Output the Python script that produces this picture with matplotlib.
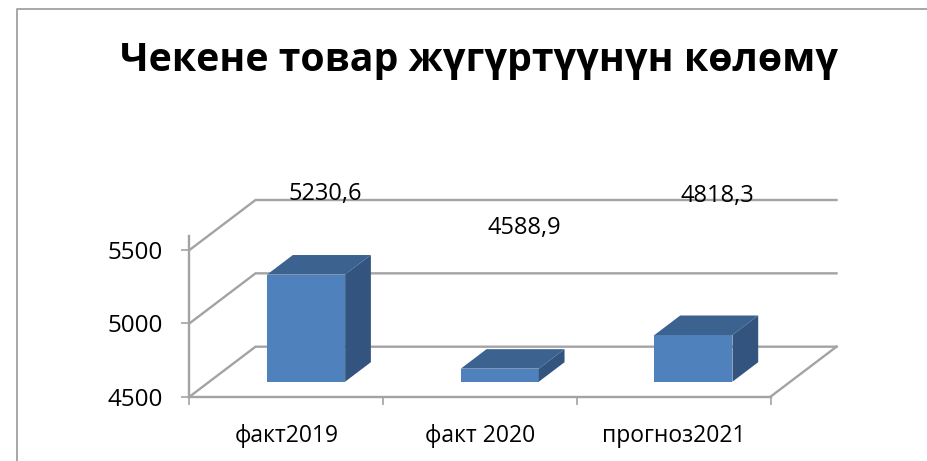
import matplotlib
matplotlib.use("Agg")
import matplotlib.pyplot as plt
from matplotlib.lines import Line2D
from matplotlib.patches import Polygon

plt.rcParams['font.family'] = ['Open Sans', 'DejaVu Sans']

title = "Чекене товар жүгүртүүнүн көлөмү"
categories = ["факт2019", "факт 2020", "прогноз2021"]
values = [5230.6, 4588.9, 4818.3]
value_labels = ["5230,6", "4588,9", "4818,3"]
yticks = [4500, 5000, 5500]

W, H = 928, 461
fig = plt.figure(figsize=(W / 100, H / 100), dpi=100)
fig.patch.set_facecolor("white")

def fx(p): return p / W
def fy(p): return 1 - p / H

left, right, bottom, top = 189.5, 770.5, 396.7, 236.0
ax = fig.add_axes([fx(left), fy(bottom), fx(right - left), (bottom - top) / H])
px_per_val = 146.7 / 1000
ax.set_xlim(0, 3)
ax.set_ylim(4500, 4500 + (bottom - top) / px_per_val)
ax.patch.set_alpha(0)

# oblique depth of the 3-D box, in data units
px_per_cat = (right - left) / 3
DX = 66 / px_per_cat
DY = 50 / px_per_val

def proj(x, v, d):
    return x + d * DX, v + d * DY

GRID = "#a3a3a3"
LW = 1.7
for v in yticks:
    x0, y0 = proj(0, v, 0)
    x1, y1 = proj(0, v, 1)
    x2, y2 = proj(3, v, 1)
    ax.plot([x0, x1, x2], [y0, y1, y2], color=GRID, lw=LW, clip_on=False,
            solid_joinstyle="miter", zorder=1)
xa, ya = proj(3, yticks[0], 0)
xb, yb = proj(3, yticks[0], 1)
ax.plot([xa, xb], [ya, yb], color=GRID, lw=LW, clip_on=False, zorder=1)

FRONT, TOP, SIDE = "#4f81bd", "#3c6390", "#32547f"
half = 78 / px_per_cat / 2
d0, d1 = 0.30, 0.69
for i, val in enumerate(values):
    c = i + 0.5
    base = yticks[0]
    pts = lambda *q: [proj(*p) for p in q]
    ax.add_patch(Polygon(pts((c - half, base, d0), (c + half, base, d0), (c + half, val, d0), (c - half, val, d0)),
                         fc=FRONT, ec="none", clip_on=False, zorder=3))
    ax.add_patch(Polygon(pts((c - half, val, d0), (c + half, val, d0), (c + half, val, d1), (c - half, val, d1)),
                         fc=TOP, ec="none", clip_on=False, zorder=3))
    ax.add_patch(Polygon(pts((c + half, base, d0), (c + half, base, d1), (c + half, val, d1), (c + half, val, d0)),
                         fc=SIDE, ec="none", clip_on=False, zorder=3))

for s in ("top", "right"):
    ax.spines[s].set_visible(False)
for s in ("left", "bottom"):
    ax.spines[s].set_color(GRID)
    ax.spines[s].set_linewidth(LW)

FS = 17
ax.set_yticks(yticks)
ax.set_yticklabels([str(v) for v in yticks], fontsize=FS + 0.5, color="black")
ax.tick_params(axis="y", length=6, width=1.2, color=GRID, pad=13)
ax.set_xticks([0, 1, 2, 3])
ax.set_xticklabels([])
ax.tick_params(axis="x", length=6, width=1.2, color=GRID)
ax.set_xticks([0.5, 1.5, 2.5], minor=True)
ax.set_xticklabels(categories, minor=True, fontsize=16.5, color="black")
ax.tick_params(axis="x", which="minor", length=0, pad=20)
ax.get_xticklabels(minor=True)[1].set_x(1.48)

label_pos = [(325, 194), (524, 228), (717, 196)]
for (px, py), s in zip(label_pos, value_labels):
    fig.text(fx(px), fy(py), s, ha="center", va="center", fontsize=FS, color="black", zorder=5)

fig.text(fx(479), fy(60), title, ha="center", va="center", fontsize=28.3, fontweight="bold", color="black")

fig.add_artist(Line2D([fx(17), fx(17), 1], [0, fy(9), fy(9)], color="#a0a0a0", lw=1.3))

fig.savefig("out.png", dpi=100)
